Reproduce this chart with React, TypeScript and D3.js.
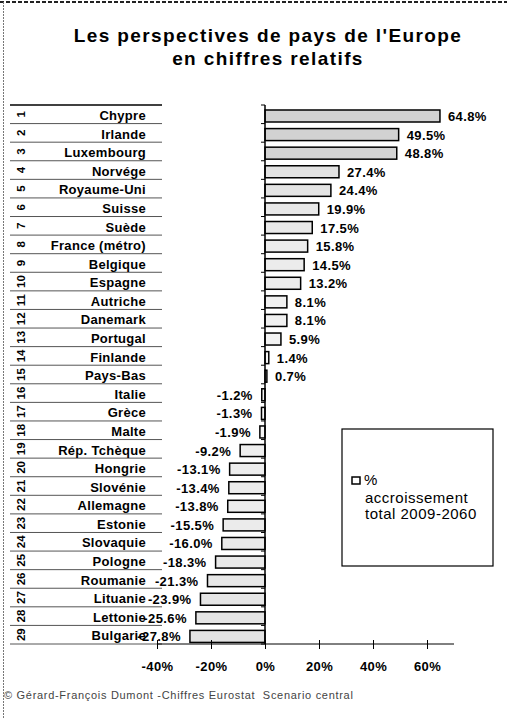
import * as d3 from 'd3';
import { FC, useEffect } from 'react';

const countries = [
  'Chypre', 'Irlande', 'Luxembourg', 'Norvége', 'Royaume-Uni', 'Suisse', 'Suède',
  'France (métro)', 'Belgique', 'Espagne', 'Autriche', 'Danemark', 'Portugal',
  'Finlande', 'Pays-Bas', 'Italie', 'Grèce', 'Malte', 'Rép. Tchèque', 'Hongrie',
  'Slovénie', 'Allemagne', 'Estonie', 'Slovaquie', 'Pologne', 'Roumanie',
  'Lituanie', 'Lettonie', 'Bulgarie',
];

const growth = [
  64.8, 49.5, 48.8, 27.4, 24.4, 19.9, 17.5, 15.8, 14.5, 13.2, 8.1, 8.1, 5.9, 1.4,
  0.7, -1.2, -1.3, -1.9, -9.2, -13.1, -13.4, -13.8, -15.5, -16.0, -18.3, -21.3,
  -23.9, -25.6, -27.8,
];

const xTicks = [-40, -20, 0, 20, 40, 60];

const legendLines = ['%', 'accroissement', 'total 2009-2060'];

const WIDTH = 507;
const HEIGHT = 719;
const FONT = '"Liberation Sans", Arial, sans-serif';

const ChartPerspectives: FC = () => {
  useEffect(() => {
    drawChart();
  }, []);

  const drawChart = () => {
    d3.select('#perspectives').selectAll('*').remove();

    const svg = d3
      .select('#perspectives')
      .append('svg')
      .attr('width', WIDTH)
      .attr('height', HEIGHT)
      .style('position', 'absolute')
      .style('left', 0)
      .style('top', 0)
      .style('background', '#fff')
      .style('font-family', FONT);

    const rows = countries.map((name, i) => ({ name, value: growth[i], rank: i + 1 }));

    const x = d3.scaleLinear().domain([-40, 70]).range([157, 454]);
    const y = d3.scaleBand<string>().domain(countries).range([105, 644]);
    const step = y.step();

    const fill = d3
      .scaleLinear<string>()
      .domain([0, 50])
      .range(['#f6f6f6', '#d2d2d2'])
      .clamp(true);

    // scanned page frame
    svg
      .append('line')
      .attr('x1', 0)
      .attr('x2', WIDTH)
      .attr('y1', 2)
      .attr('y2', 2)
      .style('stroke', '#222')
      .style('stroke-width', 2)
      .style('stroke-dasharray', '4,2');

    svg
      .append('line')
      .attr('x1', 3.5)
      .attr('x2', 3.5)
      .attr('y1', 2)
      .attr('y2', HEIGHT)
      .style('stroke', '#777')
      .style('stroke-width', 1)
      .style('stroke-dasharray', '2,1');

    // title
    svg
      .append('text')
      .attr('x', 268)
      .attr('y', 42)
      .style('text-anchor', 'middle')
      .style('font-size', '19px')
      .style('font-weight', 'bold')
      .style('letter-spacing', '1.4px')
      .text("Les perspectives de pays de l'Europe");

    svg
      .append('text')
      .attr('x', 268)
      .attr('y', 65)
      .style('text-anchor', 'middle')
      .style('font-size', '19px')
      .style('font-weight', 'bold')
      .style('letter-spacing', '1.4px')
      .text('en chiffres relatifs');

    // table lines
    const bounds = [...countries.map((c) => y(c)!), 644];
    svg
      .selectAll('.row-line')
      .data(bounds)
      .enter()
      .append('line')
      .attr('class', 'row-line')
      .attr('x1', 10)
      .attr('x2', 162)
      .attr('y1', (d) => d)
      .attr('y2', (d) => d)
      .style('stroke', (d, i) => (i === 0 ? '#000' : '#555'))
      .style('stroke-width', (d, i) => (i === 0 ? 1.5 : 1));

    // rank numbers (rotated)
    svg
      .selectAll('.rank')
      .data(rows)
      .enter()
      .append('text')
      .attr('class', 'rank')
      .attr('transform', (d) => `translate(21, ${y(d.name)! + step / 2}) rotate(-90)`)
      .attr('dy', '0.36em')
      .style('text-anchor', 'middle')
      .style('font-size', '11.5px')
      .style('font-weight', 'bold')
      .text((d) => d.rank);

    // country names
    svg
      .selectAll('.country')
      .data(rows)
      .enter()
      .append('text')
      .attr('class', 'country')
      .attr('x', 146)
      .attr('y', (d) => y(d.name)! + 15)
      .style('text-anchor', 'end')
      .style('font-size', '13px')
      .style('font-weight', 'bold')
      .style('letter-spacing', '0.3px')
      .text((d) => d.name);

    // bars
    svg
      .selectAll('.bar')
      .data(rows)
      .enter()
      .append('rect')
      .attr('class', 'bar')
      .attr('x', (d) => Math.min(x(0), x(d.value)))
      .attr('y', (d) => y(d.name)! + 5)
      .attr('width', (d) => Math.abs(x(d.value) - x(0)))
      .attr('height', 12)
      .style('fill', (d) => fill(Math.abs(d.value)))
      .style('stroke', '#000')
      .style('stroke-width', 1.5);

    // value labels
    svg
      .selectAll('.value')
      .data(rows)
      .enter()
      .append('text')
      .attr('class', 'value')
      .attr('x', (d) => (d.value >= 0 ? x(d.value) + 8 : x(d.value) - 9))
      .attr('y', (d) => y(d.name)! + 16)
      .style('text-anchor', (d) => (d.value >= 0 ? 'start' : 'end'))
      .style('font-size', '13px')
      .style('font-weight', 'bold')
      .style('letter-spacing', '0.4px')
      .text((d) => `${d.value.toFixed(1)}%`);

    // vertical axis at 0 with ticks on row boundaries
    svg
      .append('line')
      .attr('x1', x(0))
      .attr('x2', x(0))
      .attr('y1', 105)
      .attr('y2', 644)
      .style('stroke', '#000')
      .style('stroke-width', 1.5);

    svg
      .selectAll('.y-tick')
      .data(bounds)
      .enter()
      .append('line')
      .attr('class', 'y-tick')
      .attr('x1', x(0) - 4)
      .attr('x2', x(0))
      .attr('y1', (d) => d)
      .attr('y2', (d) => d)
      .style('stroke', '#000')
      .style('stroke-width', 1);

    // horizontal axis
    const xAxis = svg
      .append('g')
      .attr('transform', 'translate(0,644)')
      .call(
        d3
          .axisBottom(x)
          .tickValues(xTicks)
          .tickSize(5)
          .tickPadding(13)
          .tickFormat((d) => `${d}%`)
      )
      .style('font-family', FONT)
      .style('font-size', '13px')
      .style('font-weight', 'bold');

    xAxis.select('.domain').attr('d', `M${x(-40)},0H${x(70)}`).style('stroke', '#000');
    xAxis.selectAll('.tick line').attr('y1', -4).style('stroke', '#000');
    xAxis.selectAll('.tick text').style('fill', '#000').style('letter-spacing', '0.4px');

    // legend
    svg
      .append('rect')
      .attr('x', 342)
      .attr('y', 429)
      .attr('width', 151)
      .attr('height', 137)
      .style('fill', '#fff')
      .style('stroke', '#000')
      .style('stroke-width', 1.2);

    svg
      .append('rect')
      .attr('x', 352)
      .attr('y', 477)
      .attr('width', 8)
      .attr('height', 7)
      .style('fill', '#fff')
      .style('stroke', '#000')
      .style('stroke-width', 1.5);

    svg
      .selectAll('.legend-text')
      .data(legendLines)
      .enter()
      .append('text')
      .attr('class', 'legend-text')
      .attr('x', (d, i) => (i === 0 ? 364 : 365))
      .attr('y', (d, i) => [485, 503, 519][i])
      .style('font-size', '15px')
      .style('letter-spacing', '0.5px')
      .text((d) => d);

    // source
    svg
      .append('text')
      .attr('x', 4)
      .attr('y', 699)
      .style('font-size', '11px')
      .style('letter-spacing', '0.7px')
      .style('fill', '#444')
      .style('white-space', 'pre')
      .text('© Gérard-François Dumont -Chiffres Eurostat  Scenario central');
  };

  return <div id="perspectives"></div>;
};

export default function App() {
  return <ChartPerspectives />;
}
